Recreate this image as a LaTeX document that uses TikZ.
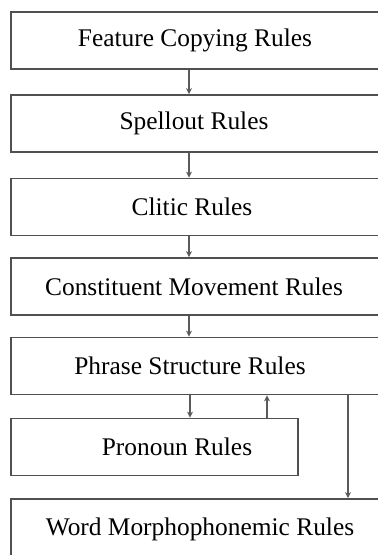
\documentclass[tikz,border=0pt]{standalone}
\usepackage{fontspec}
\setmainfont{Liberation Serif}
\usetikzlibrary{arrows.meta}
\definecolor{box_gray}{RGB}{80,80,80}
\definecolor{edge_gray}{RGB}{90,90,90}

\begin{document}
\begin{tikzpicture}[->,>={Stealth[length=3pt,width=3pt]},x=0.5pt,y=-0.5pt]
    \tikzstyle{rule}=[draw=box_gray, line width=0.9pt, rectangle, minimum width=185pt, minimum height=28.5pt, inner sep=0pt, text=black, font=\fontsize{12.7}{15}\selectfont]
    \tikzstyle{flow}=[color=edge_gray, line width=0.7pt]

    \useasboundingbox (0,0) rectangle (377,555);

    \node[rule] (feat)   at (196,40.5) {\hspace*{-1pt}Feature Copying Rules};
    \node[rule] (spell)  at (196,123.5) {\hspace*{-2pt}Spellout Rules};
    \node[rule] (clitic) at (196,207) {\hspace*{-4pt}Clitic Rules};
    \node[rule] (const)  at (196,286.5) {\hspace*{-2pt}Constituent Movement Rules};
    \node[rule] (phrase) at (196,366) {\hspace*{-6pt}Phrase Structure Rules};
    \node[rule, minimum width=143.5pt] (pron) at (154.5,447) {\hspace*{22.5pt}Pronoun Rules};
    \node[rule, minimum height=30pt] (word) at (196,529) {\hspace*{4pt}Word Morphophonemic Rules};

    \coordinate (ax) at (189,0);
    \coordinate (pd) at (190,0);
    \coordinate (pu) at (267,0);
    \coordinate (wm) at (348,0);

    \path[flow]
     (feat.south -| ax) edge (spell.north -| ax)
     (spell.south -| ax) edge (clitic.north -| ax)
     (clitic.south -| ax) edge (const.north -| ax)
     (const.south -| ax) edge (phrase.north -| ax)
     (phrase.south -| pd) edge (pron.north -| pd)
     (pron.north -| pu) edge (phrase.south -| pu)
     (phrase.south -| wm) edge (word.north -| wm);
\end{tikzpicture}
\end{document}
